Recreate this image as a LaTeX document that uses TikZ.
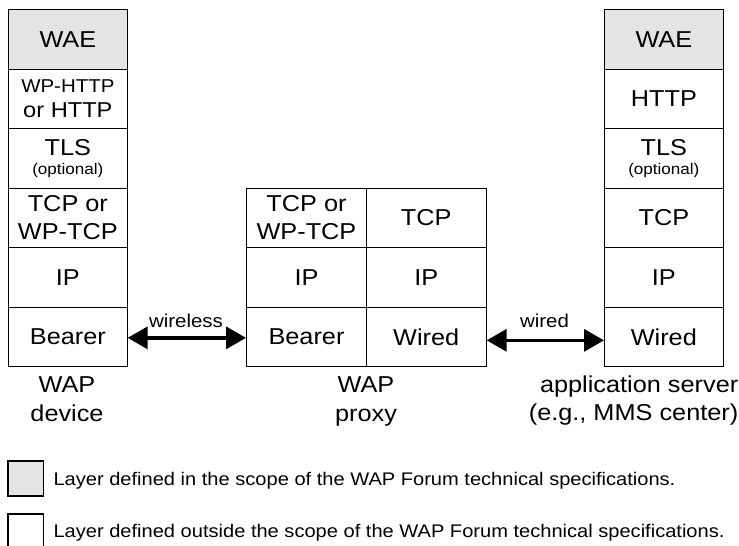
\documentclass[tikz,border=0pt]{standalone}
\usepackage{fontspec}
\setmainfont{Liberation Sans}[FakeStretch=1.1]
\usetikzlibrary{arrows.meta}

\definecolor{wapgray}{HTML}{E4E4E4}

\begin{document}
\begin{tikzpicture}[x=1pt,y=-1pt,
  cell/.style={draw=black, line width=1.2pt, inner sep=0pt, anchor=north west,
    minimum height=59.5pt, align=center, font=\fontsize{23}{28}\selectfont},
  narrow/.style={cell, minimum width=118.5pt},
  half/.style={cell, minimum width=119.75pt},
  wap/.style={fill=wapgray},
  caption/.style={inner sep=0pt, font=\fontsize{23}{29}\selectfont},
  linklabel/.style={inner sep=0pt, anchor=base, font=\fontsize{18.6}{22}\selectfont},
  legendtext/.style={inner sep=0pt, anchor=base west, font=\fontsize{18.25}{22}\selectfont},
  bigarrow/.style={line width=3.5pt, {Triangle[length=20pt,width=22pt]}-{Triangle[length=20pt,width=22pt]}}
]
\useasboundingbox (0,0) rectangle (739,546);

% WAP device stack
\node[narrow, wap] (dWAE) at (8,9) {WAE};
\node[narrow] (dHTTP) at (8,68.5) {{\fontsize{18.6}{22}\selectfont WP-HTTP}\\[-3pt]{\fontsize{21.5}{24}\selectfont or HTTP}};
\node[narrow] (dTLS) at (8,128) {TLS\\[-9pt]{\fontsize{15.5}{17}\selectfont (optional)}};
\node[narrow] (dTCP) at (8,187.5) {TCP or\\WP-TCP};
\node[narrow] (dIP) at (8,247) {IP};
\node[narrow] (dB) at (8,306.5) {Bearer};

% WAP proxy: two half stacks side by side
\node[half] (pTCPa) at (246,187.5) {TCP or\\WP-TCP};
\node[half] (pIPa) at (246,247) {IP};
\node[half] (pB) at (246,306.5) {Bearer};
\node[half] (pTCPb) at (365.75,187.5) {TCP};
\node[half] (pIPb) at (365.75,247) {IP};
\node[half] (pW) at (365.75,306.5) {Wired};

% application server stack
\node[narrow, wap] (sWAE) at (604,9) {WAE};
\node[narrow] (sHTTP) at (604,68.5) {HTTP};
\node[narrow] (sTLS) at (604,128) {TLS\\[-9pt]{\fontsize{15.5}{17}\selectfont (optional)}};
\node[narrow] (sTCP) at (604,187.5) {TCP};
\node[narrow] (sIP) at (604,247) {IP};
\node[narrow] (sW) at (604,306.5) {Wired};

% links
\draw[bigarrow] ([yshift=-1pt]dB.east) -- ([yshift=-1pt]pB.west);
\draw[bigarrow] ([yshift=-3.5pt]pW.east) -- ([yshift=-3.5pt]sW.west);
\node[linklabel] (lwl) at (186,327) {wireless};
\node[linklabel] (lwd) at (544.5,327) {wired};

% captions
\node[caption, anchor=base] (cd1) at (67,392) {WAP};
\node[caption, anchor=base] (cd2) at (67,421) {device};
\node[caption, anchor=base] (cp1) at (366,392) {WAP};
\node[caption, anchor=base] (cp2) at (366,421) {proxy};
\node[caption, anchor=base east] (cs1) at (738.5,392) {application server};
\node[caption, anchor=base east] (cs2) at (738.5,420) {(e.g., MMS center)};

% legend
\draw[line width=1.2pt, fill=wapgray] (8,461) rectangle (43.3,496);
\draw[line width=1.2pt] (8,549) -- (8,514) -- (43.3,514) -- (43.3,549);
\node[legendtext] (lg1) at (53.3,485) {Layer defined in the scope of the WAP Forum technical specifications.};
\node[legendtext] (lg2) at (53.3,537) {Layer defined outside the scope of the WAP Forum technical specifications.};
\end{tikzpicture}
\end{document}
